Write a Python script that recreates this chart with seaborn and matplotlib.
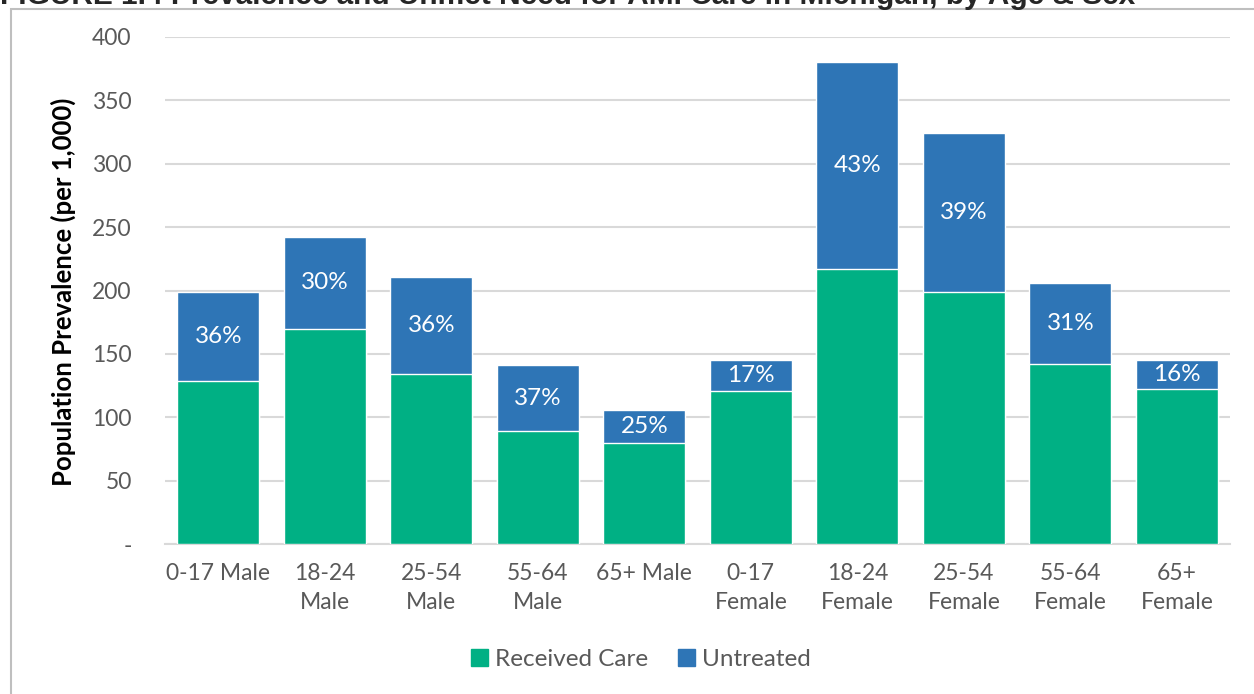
import matplotlib
matplotlib.use('Agg')
import matplotlib.pyplot as plt
import seaborn as sns
import pandas as pd
from matplotlib.patches import Patch, Rectangle

groups = ['0-17 Male', '18-24\nMale', '25-54\nMale', '55-64\nMale', '65+ Male',
          '0-17\nFemale', '18-24\nFemale', '25-54\nFemale', '55-64\nFemale', '65+\nFemale']
received = [129, 170, 134, 89, 80, 121, 217, 199, 142, 122]
total = [199, 242, 211, 141, 106, 145, 380, 324, 206, 145]
untreated_pct = ['36%', '30%', '36%', '37%', '25%', '17%', '43%', '39%', '31%', '16%']

green = '#00B084'
blue = '#2E75B6'

df = pd.DataFrame({'group': groups, 'received': received, 'total': total})

sns.set_style('white')
plt.rcParams['font.family'] = ['Lato', 'DejaVu Sans']

fig = plt.figure(figsize=(12.54, 6.94), dpi=100)
ax = fig.add_axes([0.1316, 0.2161, 0.8494, 0.7306])

sns.barplot(data=df, x='group', y='total', color=blue, width=0.77, saturation=1, ax=ax, zorder=2)
sns.barplot(data=df, x='group', y='received', color=green, width=0.77, saturation=1, ax=ax, zorder=3)

# percent labels in the middle of the untreated part
for i in range(len(groups)):
    mid = (received[i] + total[i]) / 2
    ax.text(i, mid, untreated_pct[i], ha='center', va='center', color='white', fontsize=17.5, zorder=4)

ax.set_ylim(0, 400)
ax.set_xlim(-0.5, len(groups) - 0.5)
ax.set_yticks(range(0, 401, 50))
ax.set_yticklabels(['-'] + [str(v) for v in range(50, 401, 50)])
ax.yaxis.grid(True, color='#d9d9d9', linewidth=1.5, zorder=0)
ax.set_axisbelow(True)
for s in ['top', 'right', 'left']:
    ax.spines[s].set_visible(False)
ax.spines['bottom'].set_color('#d9d9d9')
ax.spines['bottom'].set_linewidth(1.5)
ax.tick_params(axis='both', length=0, labelsize=16.5, colors='#595959')
ax.tick_params(axis='y', pad=24)
ax.tick_params(axis='x', pad=14)
for lab in ax.get_xticklabels():
    lab.set_linespacing(1.45)
ax.set_xlabel('')
ax.set_ylabel('Population Prevalence (per 1,000)', fontsize=18.5, fontweight='bold', color='black')
ax.yaxis.set_label_coords(-0.084, 0.497)

handles = [Patch(color=green, label='Received Care'), Patch(color=blue, label='Untreated')]
fig.legend(handles=handles, loc='center', bbox_to_anchor=(0.511, 0.05), ncol=2, frameon=False,
           fontsize=17.5, handlelength=0.7, handleheight=0.7, handletextpad=0.3, columnspacing=1.2,
           labelcolor='#595959')

# chart border, cut off at right and bottom
fig.patches.append(Rectangle((11 / 1254, -0.1), 1.2, 1 - 9 / 694 + 0.1, transform=fig.transFigure,
                             fill=False, edgecolor='#bfbfbf', linewidth=1.5))

fig.text(0.0, 1 - 4 / 694, 'FIGURE 1.4 Prevalence and Unmet Need for AMI Care in Michigan, by Age & Sex',
         fontsize=21.5, fontweight='bold', family='Liberation Sans', va='baseline', ha='left')

fig.savefig('out.png', dpi=100)
